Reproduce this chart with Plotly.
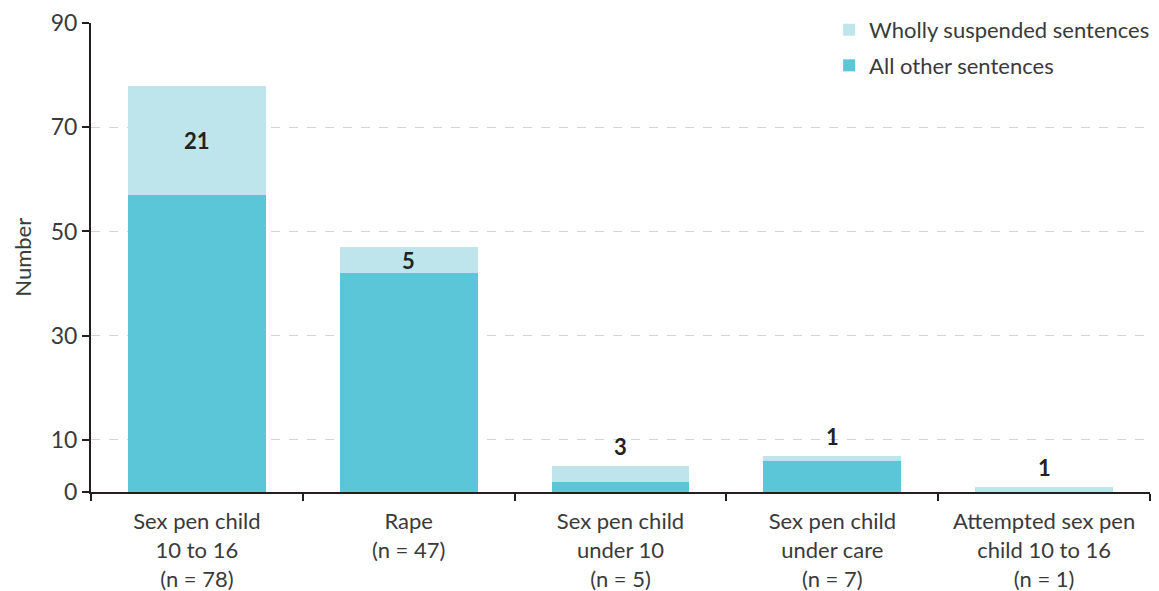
import plotly.graph_objects as go

categories = ["Sex pen child<br>10 to 16<br>(n = 78)", "Rape<br>(n = 47)",
              "Sex pen child<br>under 10<br>(n = 5)", "Sex pen child<br>under care<br>(n = 7)",
              "Attempted sex pen<br>child 10 to 16<br>(n = 1)"]
other = [57, 42, 2, 6, 0]
suspended = [21, 5, 3, 1, 1]
y_ticks = [0, 10, 30, 50, 70, 90]

FONT = "Lato"
TXT = "#3a3a3a"

fig = go.Figure()
fig.add_trace(go.Bar(x=categories, y=other, name="All other sentences", legendgroup="b",
                     legendrank=2,
                     marker=dict(color="#5BC6D7", line=dict(width=0)), width=0.65))
fig.add_trace(go.Bar(x=categories, y=suspended, name="Wholly suspended sentences", legendgroup="a",
                     legendrank=1,
                     marker=dict(color="#BEE5EB", line=dict(width=0)), width=0.65))

for c, o, s in zip(categories, other, suspended):
    total = o + s
    if s >= 5:
        fig.add_annotation(x=c, y=o + s / 2, text="<b>%d</b>" % s, showarrow=False,
                           font=dict(family=FONT, size=22, color="#222"))
    else:
        fig.add_annotation(x=c, y=total, text="<b>%d</b>" % s, showarrow=False, yshift=19,
                           font=dict(family=FONT, size=22, color="#222"))

fig.add_annotation(xref="paper", yref="paper", x=-0.065, y=0.5, text="Number",
                   textangle=-90, showarrow=False, xanchor="center", yanchor="middle",
                   font=dict(family=FONT, size=22, color=TXT))

fig.update_layout(
    barmode="stack",
    width=1151, height=583,
    margin=dict(l=83, r=9, t=15, b=99, autoexpand=False),
    plot_bgcolor="white", paper_bgcolor="white",
    font=dict(family=FONT, size=22, color=TXT),
    legend=dict(x=0.697, y=1.03, xanchor="left", yanchor="top",
                traceorder="grouped", tracegroupgap=4,
                font=dict(family=FONT, size=22, color=TXT), bgcolor="rgba(0,0,0,0)",
                itemwidth=30),
    xaxis=dict(showline=True, linecolor="#231F20", linewidth=2, ticks="outside",
               tickson="boundaries", ticklen=7, tickwidth=2, tickcolor="#231F20",
               tickfont=dict(family=FONT, size=22, color=TXT), showgrid=False,
               ticklabelstandoff=9, automargin=False),
    yaxis=dict(range=[0, 90], tickvals=y_ticks, showline=True, linecolor="#231F20",
               linewidth=2, ticks="outside", ticklen=7, tickwidth=2, tickcolor="#231F20",
               tickfont=dict(family=FONT, size=23, color=TXT),
               showgrid=True, gridcolor="#d4d4d4", griddash="dash", gridwidth=1,
               zeroline=False, automargin=False),
)

fig.write_html("out.html")
